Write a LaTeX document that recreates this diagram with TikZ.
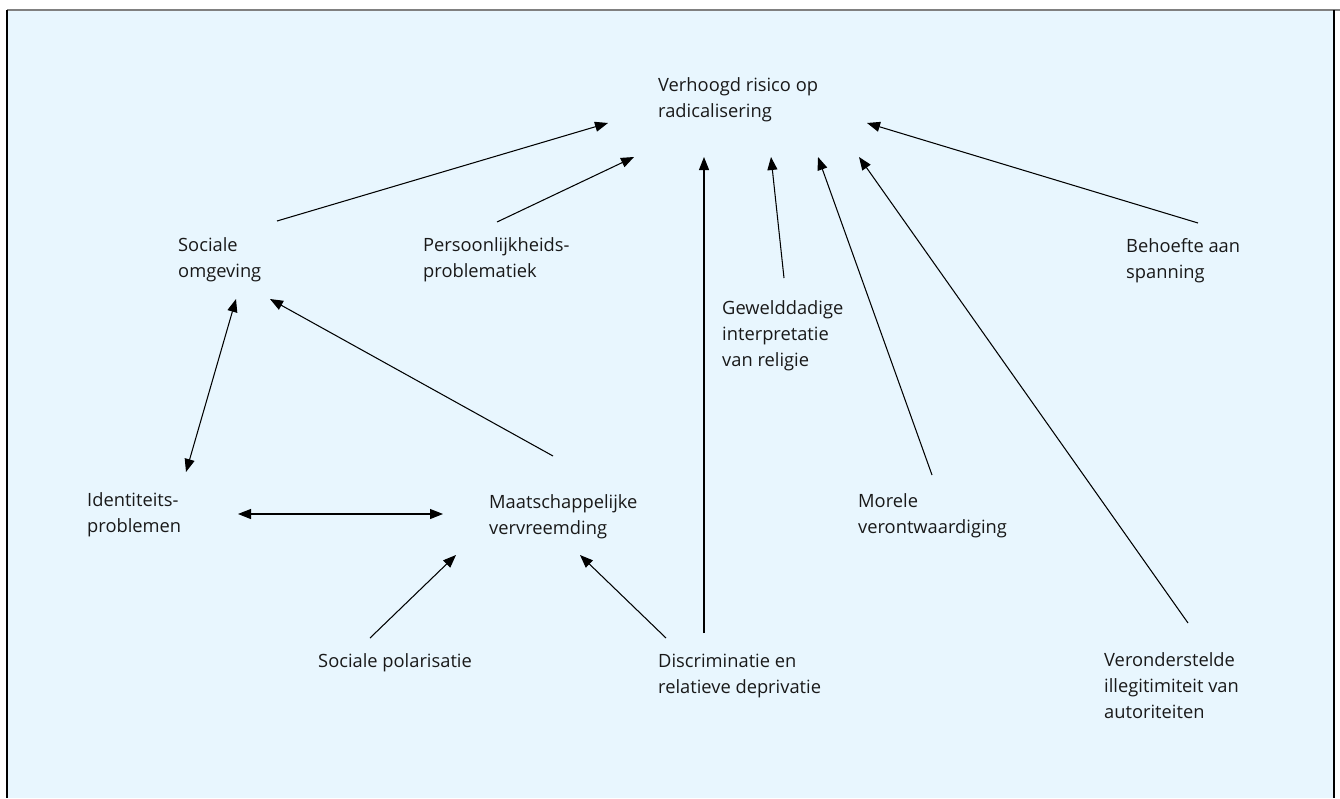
\documentclass[tikz,border=0pt]{standalone}
\usepackage{fontspec}
\setmainfont{Open Sans}
\usetikzlibrary{arrows.meta}
\definecolor{panelbg}{RGB}{232,246,254}
\definecolor{txt}{RGB}{25,25,25}
\tikzset{
  lbl/.style={anchor=base west, inner sep=0pt, align=left, text=txt,
    font=\fontsize{18.3}{26}\selectfont},
  arr/.style={line width=1.05pt, -{Triangle[length=13pt,width=10pt]}},
  darr/.style={line width=1.05pt, {Triangle[length=13pt,width=10pt]}-{Triangle[length=13pt,width=10pt]}}
}
\begin{document}
\begin{tikzpicture}[x=1pt,y=-1pt]
\useasboundingbox (0,0) rectangle (1340,798);
\fill[panelbg] (7,10) rectangle (1334,798);
\draw[line width=1.5pt, gray] (7,10) -- (1340,10);
\draw[line width=1.5pt, black] (7,10) -- (7,798);
\draw[line width=1.2pt, black] (1334,10) -- (1334,798);

% text nodes (anchor = baseline of the last line)
\node[lbl] (verh) at (658,117) {Verhoogd risico op\\radicalisering};
\node[lbl] (soc) at (178,277) {Sociale\\omgeving};
\node[lbl] (pers) at (423,277) {Persoonlijkheids-\\problematiek};
\node[lbl] (beh) at (1126,278) {Behoefte aan\\spanning};
\node[lbl] (gew) at (722,366) {Gewelddadige\\interpretatie\\van religie};
\node[lbl] (ident) at (87,532) {Identiteits-\\problemen};
\node[lbl] (maat) at (489,534) {Maatschappelijke\\vervreemding};
\node[lbl] (mor) at (858,533) {Morele\\verontwaardiging};
\node[lbl] (pol) at (318,667) {Sociale polarisatie};
\node[lbl] (disc) at (658,693) {Discriminatie en\\relatieve deprivatie};
\node[lbl] (ver) at (1104,718) {Veronderstelde\\illegitimiteit van\\autoriteiten};

% connector end points
\coordinate (soc-out) at (277,221);
\coordinate (verh-in1) at (608,123);
\coordinate (pers-out) at (497,222);
\coordinate (verh-in2) at (634,157);
\coordinate (disc-out1) at (704,633);
\coordinate (verh-in3) at (704,157);
\coordinate (gew-out) at (784,278);
\coordinate (verh-in4) at (771,157);
\coordinate (mor-out) at (932,475);
\coordinate (verh-in5) at (818,157);
\coordinate (ver-out) at (1188,623);
\coordinate (verh-in6) at (859,157);
\coordinate (beh-out) at (1198,223);
\coordinate (verh-in7) at (867,123);
\coordinate (soc-in1) at (236,299);
\coordinate (ident-in1) at (186,472);
\coordinate (maat-out) at (553,456);
\coordinate (soc-in2) at (270,299);
\coordinate (ident-in2) at (238,514);
\coordinate (maat-in1) at (443,514);
\coordinate (pol-out) at (370,638);
\coordinate (maat-in2) at (456,555);
\coordinate (disc-out2) at (666,638);
\coordinate (maat-in3) at (580,555);

% connectors
\draw[arr] (soc-out) -- (verh-in1);
\draw[arr] (pers-out) -- (verh-in2);
\draw[arr] (disc-out1) -- (verh-in3);
\draw[arr] (gew-out) -- (verh-in4);
\draw[arr] (mor-out) -- (verh-in5);
\draw[arr] (ver-out) -- (verh-in6);
\draw[arr] (beh-out) -- (verh-in7);
\draw[darr] (soc-in1) -- (ident-in1);
\draw[arr] (maat-out) -- (soc-in2);
\draw[darr] (ident-in2) -- (maat-in1);
\draw[arr] (pol-out) -- (maat-in2);
\draw[arr] (disc-out2) -- (maat-in3);
\end{tikzpicture}
\end{document}
